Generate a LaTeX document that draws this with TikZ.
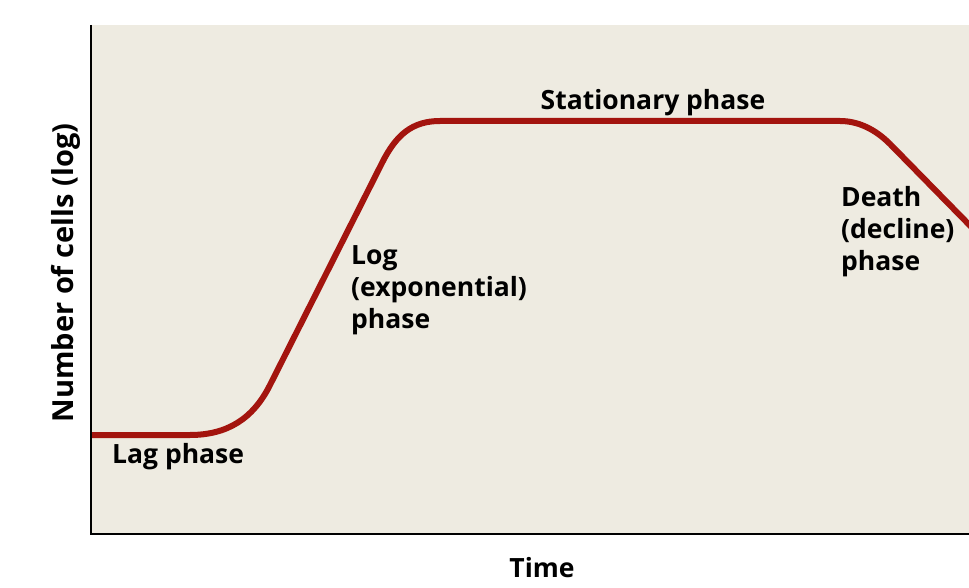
\documentclass[tikz,border=0pt]{standalone}
\usepackage{fontspec}
\setmainfont{Open Sans}
\usetikzlibrary{positioning}
\definecolor{plotbg}{RGB}{238,235,225}
\definecolor{curvered}{RGB}{163,20,14}

\begin{document}
\begin{tikzpicture}[x=1pt, y=-1pt, inner sep=0pt,
  lbl/.style={font=\fontsize{26.5}{32}\selectfont\bfseries, align=left}]
\useasboundingbox (0,0) rectangle (969,588);
\fill[plotbg] (91,25) rectangle (969,534);
% growth curve
\begin{scope}
\clip (91,25) rectangle (969,534);
\draw[curvered, line width=6pt, line join=round]
  (88,435) -- (190,435) .. controls (227,435) and (253,419) .. (270,385)
  -- (382,163) .. controls (396,135) and (412,121) .. (440,121)
  -- (840,121) .. controls (858,121) and (875,129) .. (890,144)
  -- (990,246);
\end{scope}
\draw[line width=1.6pt] (91,25) -- (91,534) -- (969,534);
% labels
\node[lbl, anchor=base west](lag) at (112,463) {Lag phase};
\node[lbl, anchor=north west](logph) at (351,245) {Log\\(exponential)\\phase};
\node[lbl, anchor=base](stat) at (653,110) {Stationary phase};
\node[lbl, anchor=north west](death) at (841,186) {Death\\(decline)\\phase};
\node[lbl, font=\fontsize{29}{32}\selectfont\bfseries, rotate=90](ylab) at (66,273) {Number of cells (log)};
\node[lbl, anchor=base](xlab) at (542,577) {Time};
\end{tikzpicture}
\end{document}
